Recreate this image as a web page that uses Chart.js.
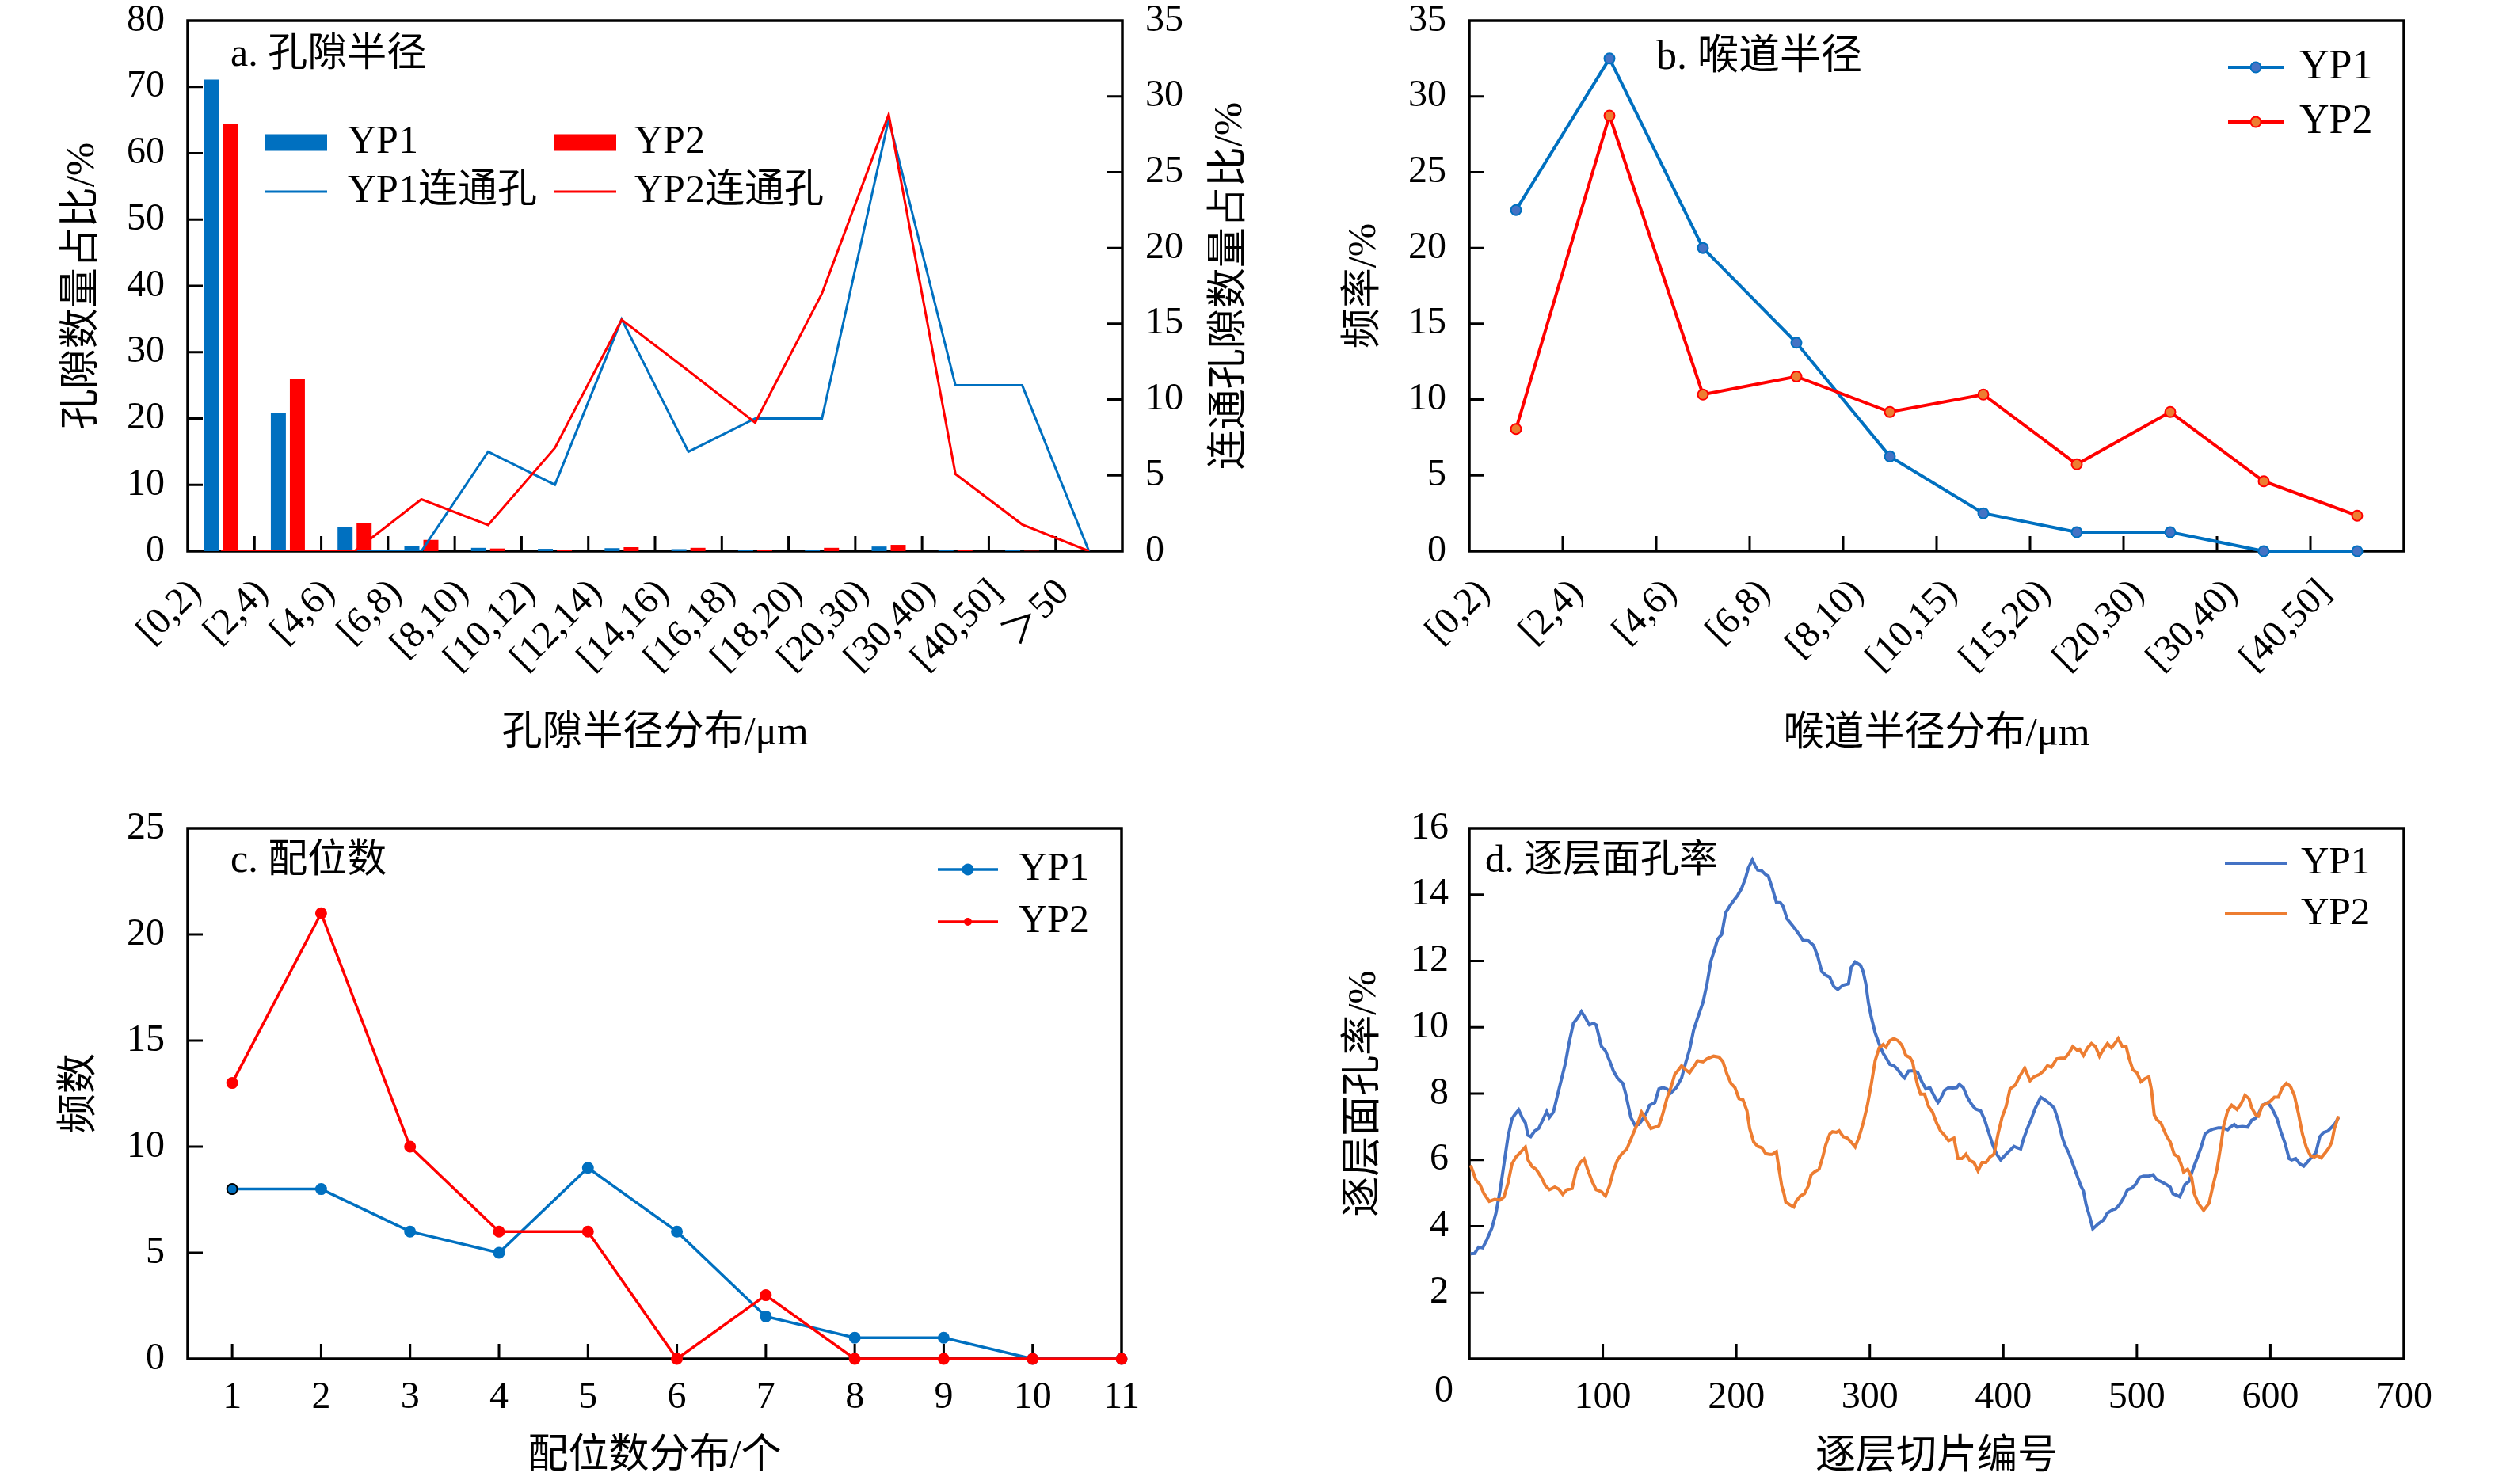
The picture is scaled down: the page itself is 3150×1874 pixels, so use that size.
<!DOCTYPE html>
<html lang="zh-CN">
<head>
<meta charset="utf-8">
<title>孔隙结构参数对比</title>
<script src="https://cdn.jsdelivr.net/npm/chart.js@4.4.1/dist/chart.umd.min.js"></script>
<style>
  html, body { margin: 0; padding: 0; background: #fff; }
  body { position: relative; width: 3150px; height: 1874px; overflow: hidden; }
  .panel { position: absolute; }
</style>
</head>
<body>
<div class="panel" style="left:0;top:0;width:1610px;height:960px"><canvas id="chartA"></canvas></div>
<div class="panel" style="left:1640px;top:0;width:1510px;height:960px"><canvas id="chartB"></canvas></div>
<div class="panel" style="left:0;top:960px;width:1610px;height:914px"><canvas id="chartC"></canvas></div>
<div class="panel" style="left:1640px;top:960px;width:1510px;height:914px"><canvas id="chartD"></canvas></div>
<script>
const BLUE = "#0070C0";
const RED = "#FF0000";
const BLUE_D = "#4472C4";
const ORANGE = "#ED7D31";
const FONT = '"Liberation Serif", "Times New Roman", "Noto Sans CJK SC", serif';

// a. 孔隙半径 (bars: left axis, connected pores: right axis)
const poreBins = ["[0,2)", "[2,4)", "[4,6)", "[6,8)", "[8,10)", "[10,12)", "[12,14)", "[14,16)", "[16,18)", "[18,20)", "[20,30)", "[30,40)", "[40,50]", "＞50"];
const yp1PoreShare = [71.1, 20.8, 3.6, 0.8, 0.5, 0.35, 0.45, 0.3, 0.2, 0.2, 0.7, 0.15, 0.15, 0];
const yp2PoreShare = [64.4, 26.0, 4.3, 1.7, 0.4, 0.2, 0.6, 0.5, 0.15, 0.5, 0.95, 0.15, 0.05, 0];
const yp1ConnShare = [0, 0, 0, 0, 6.56, 4.38, 15.3, 6.56, 8.75, 8.75, 28.5, 10.94, 10.94, 0];
const yp2ConnShare = [0, 0, 0, 3.42, 1.73, 6.81, 15.26, 11.9, 8.48, 17.0, 28.8, 5.09, 1.76, 0];

// b. 喉道半径
const throatBins = ["[0,2)", "[2,4)", "[4,6)", "[6,8)", "[8,10)", "[10,15)", "[15,20)", "[20,30)", "[30,40)", "[40,50]"];
const yp1ThroatFreq = [22.5, 32.5, 20.0, 13.75, 6.25, 2.5, 1.25, 1.25, 0, 0];
const yp2ThroatFreq = [8.06, 28.73, 10.33, 11.52, 9.18, 10.33, 5.73, 9.18, 4.61, 2.34];

// c. 配位数
const coordNumbers = [1, 2, 3, 4, 5, 6, 7, 8, 9, 10, 11];
const yp1CoordCount = [8, 8, 6, 5, 9, 6, 2, 1, 1, 0, 0];
const yp2CoordCount = [13, 21, 10, 6, 6, 0, 3, 0, 0, 0, 0];

// d. 逐层面孔率 (every few slices)
const yp1SliceNo = [1,4,7,10,13,17,20,23,26,29,32,34,37,40,42,44,46,49,52,55,58,60,63,66,69,72,75,78,81,84,87,90,93,95,99,102,105,108,111,115,117,119,121,124,127,130,133,135,139,142,145,148,151,155,159,162,165,168,171,175,178,181,
  183,186,189,192,195,198,201,204,207,209,212,214,216,219,222,224,227,230,233,235,238,241,244,247,250,254,258,261,264,267,270,273,276,280,284,286,289,293,295,297,299,301,304,307,310,312,315,318,321,324,326,329,333,336,339,342,345,348,351,
  353,356,359,362,365,367,370,373,376,379,383,386,389,392,395,398,402,405,408,410,413,415,418,421,424,428,431,435,438,441,444,446,449,452,455,458,460,462,465,467,471,475,478,482,484,487,490,493,496,499,502,505,509,512,515,518,522,525,527,530,532,
  534,536,539,542,545,548,551,554,557,561,564,568,570,573,575,579,583,586,589,591,594,598,601,605,608,611,614,616,619,622,625,627,630,634,637,640,643,648,651];
const yp1AreaPorosity = [3.17,3.18,3.37,3.35,3.58,3.95,4.40,5.06,5.88,6.70,7.24,7.36,7.51,7.24,7.12,6.74,6.70,6.87,6.95,7.20,7.46,7.28,7.44,7.94,8.43,8.92,9.58,10.12,10.28,10.47,10.28,10.07,10.12,10.07,9.42,9.29,9.00,8.68,8.47,8.31,8.02,7.65,7.28,7.05,7.07,7.24,7.44,7.65,7.73,8.14,8.18,8.14,8.02,8.18,8.47,8.92,9.33,9.91,10.28,10.75,11.30,12.00,
  12.25,12.66,12.80,13.45,13.65,13.82,13.98,14.19,14.51,14.80,15.05,14.88,14.74,14.72,14.60,14.56,14.19,13.77,13.76,13.65,13.27,13.12,12.97,12.80,12.62,12.61,12.46,12.13,11.68,11.57,11.51,11.23,11.14,11.27,11.31,11.80,11.97,11.87,11.68,11.31,10.73,10.32,9.83,9.50,9.21,9.09,8.88,8.84,8.72,8.55,8.47,8.68,8.69,8.63,8.35,8.14,8.18,7.94,7.73,
  7.85,8.10,8.18,8.17,8.18,8.28,8.18,7.89,7.69,7.54,7.48,7.21,6.83,6.46,6.17,6.00,6.17,6.29,6.41,6.37,6.33,6.62,6.95,7.24,7.57,7.89,7.81,7.69,7.57,7.20,6.70,6.46,6.21,5.88,5.55,5.22,5.06,4.65,4.24,3.92,4.07,4.19,4.40,4.50,4.52,4.65,4.85,5.10,5.14,5.26,5.47,5.51,5.51,5.55,5.40,5.35,5.26,5.18,4.98,4.93,4.89,
  5.06,5.26,5.35,5.72,6.04,6.37,6.78,6.87,6.93,6.97,6.97,6.91,6.99,7.07,6.99,7.01,6.99,7.20,7.26,7.38,7.65,7.73,7.57,7.24,6.83,6.50,6.04,6.00,6.04,5.88,5.81,5.90,6.04,6.21,6.70,6.83,6.87,7.07,7.28];
const yp2SliceNo = [1,5,8,11,15,19,23,26,29,32,35,38,42,44,47,50,54,57,60,64,67,70,73,77,80,83,86,89,92,95,99,102,105,108,111,114,118,121,124,127,129,132,136,139,142,145,148,151,154,156,159,162,165,168,171,175,178,
  183,187,190,193,196,199,202,205,208,210,213,216,219,222,225,227,230,232,234,236,237,240,243,245,248,251,254,256,259,262,265,267,270,272,275,277,280,283,286,289,292,295,298,301,304,307,310,312,315,318,321,324,327,330,332,334,336,338,341,344,347,350,
  353,356,359,363,366,369,372,375,378,381,384,387,390,393,396,399,402,405,409,412,416,420,423,427,430,433,436,440,443,446,449,452,455,457,460,463,466,469,472,475,478,481,484,486,489,492,494,497,500,503,506,509,511,513,515,518,522,525,528,531,
  533,535,538,541,543,546,550,554,557,560,563,565,568,571,575,578,581,584,586,589,591,594,597,600,603,606,609,612,615,618,621,624,627,630,633,635,638,641,644,646,648,651];
const yp2AreaPorosity = [5.84,5.39,5.26,4.98,4.75,4.81,4.79,4.88,5.30,5.88,6.09,6.21,6.39,6.00,5.80,5.72,5.47,5.22,5.10,5.18,5.12,4.96,5.10,5.14,5.67,5.92,6.03,5.67,5.35,5.10,5.04,4.91,5.22,5.67,6.00,6.17,6.33,6.62,6.91,7.20,7.44,7.24,6.95,6.99,7.03,7.40,7.85,8.18,8.59,8.68,8.84,8.72,8.63,8.80,8.99,8.96,9.05,
  9.13,9.10,8.96,8.59,8.31,8.18,7.85,7.81,7.48,6.95,6.54,6.41,6.37,6.19,6.17,6.17,6.25,5.72,5.22,4.93,4.73,4.65,4.58,4.77,4.91,4.98,5.22,5.55,5.65,5.72,6.13,6.46,6.78,6.85,6.83,6.88,6.70,6.66,6.54,6.39,6.70,7.11,7.61,8.26,9.00,9.38,9.48,9.40,9.60,9.66,9.60,9.46,9.15,9.09,8.96,8.55,8.22,7.98,7.98,7.61,7.44,7.11,
  6.87,6.74,6.58,6.66,6.04,6.04,6.17,5.98,5.92,5.67,5.92,5.92,6.09,6.17,6.78,7.28,7.61,8.14,8.26,8.51,8.77,8.39,8.51,8.58,8.68,8.84,8.80,9.05,9.07,9.07,9.21,9.42,9.32,9.34,9.15,9.38,9.51,9.42,9.13,9.34,9.51,9.38,9.54,9.66,9.43,9.42,9.09,8.72,8.63,8.36,8.45,8.51,8.10,7.36,7.21,7.11,6.74,6.54,6.17,6.09,
  5.88,5.63,5.72,5.47,4.98,4.69,4.48,4.69,5.22,5.72,6.46,7.03,7.48,7.65,7.52,7.69,7.95,7.85,7.57,7.36,7.32,7.65,7.69,7.77,7.89,7.89,8.18,8.31,8.22,7.94,7.40,6.78,6.37,6.13,6.09,6.13,6.06,6.21,6.37,6.54,6.95,7.32];

Chart.defaults.font.family = FONT;
Chart.defaults.color = "#000";
Chart.defaults.animation = false;

const TICK_SIZE = 48;
const TICK_FONT = { size: TICK_SIZE, lineHeight: 1 };
const TITLE_FONT = { size: 51, lineHeight: 1.2 };

// panel label, legend and extra texts, offsets from the chart area corner
const deco = {
  chartA: {
    title: "a. 孔隙半径", titleX: 54, titleY: 44, size: 50,
    legend: [
      { ds: 0, kind: "rect", x0: 98, x1: 176, y: 154, tx: 202 },
      { ds: 1, kind: "rect", x0: 463, x1: 541, y: 154, tx: 564 },
      { ds: 2, kind: "line", x0: 98, x1: 176, y: 216, tx: 202, width: 3 },
      { ds: 3, kind: "line", x0: 463, x1: 541, y: 216, tx: 564, width: 3 }
    ],
    sideTitle: { text: "连通孔隙数量占比/%", dx: 137 }
  },
  chartB: {
    title: "b. 喉道半径", titleX: 236, titleY: 47, size: 52,
    legend: [
      { ds: 0, kind: "line", x0: 958, x1: 1028, y: 59, tx: 1048, width: 4, marker: { r: 6.5, fill: BLUE_D, stroke: BLUE } },
      { ds: 1, kind: "line", x0: 958, x1: 1028, y: 128, tx: 1048, width: 4, marker: { r: 6.5, fill: ORANGE, stroke: RED } }
    ]
  },
  chartC: {
    title: "c. 配位数", titleX: 54, titleY: 42, size: 50,
    legend: [
      { ds: 0, kind: "line", x0: 947, x1: 1023, y: 52, tx: 1049, width: 3.5, marker: { r: 6.5, fill: BLUE, stroke: BLUE } },
      { ds: 1, kind: "line", x0: 947, x1: 1023, y: 118, tx: 1049, width: 3.5, marker: { r: 4, fill: RED, stroke: RED } }
    ]
  },
  chartD: {
    title: "d. 逐层面孔率", titleX: 20, titleY: 42, size: 49,
    legend: [
      { ds: 0, kind: "line", x0: 954, x1: 1032, y: 44, tx: 1050, width: 4 },
      { ds: 1, kind: "line", x0: 954, x1: 1032, y: 108, tx: 1050, width: 4 }
    ],
    // the shared origin label sits down-left of the corner
    cornerLabel: { text: "0", dx: -32, dy: 17 + TICK_SIZE / 2 }
  }
};

// which axes get the short inward tick marks
const innerMarks = {
  chartA: [{ scale: "x", side: "bottom", between: true }, { scale: "y", side: "left" }, { scale: "y1", side: "right" }],
  chartB: [{ scale: "x", side: "bottom", between: true }, { scale: "y", side: "left" }],
  chartC: [{ scale: "x", side: "bottom" }, { scale: "y", side: "left" }],
  chartD: [{ scale: "x", side: "bottom" }, { scale: "y", side: "left" }]
};

const framePlugin = {
  id: "frame",
  beforeDatasetsDraw(chart) {
    const { ctx, chartArea: a } = chart;
    ctx.save();
    ctx.strokeStyle = "#000";
    ctx.lineWidth = 3;
    ctx.beginPath();
    (innerMarks[chart.canvas.id] || []).forEach(m => {
      const s = chart.scales[m.scale];
      let px = [];
      if (m.between) {
        for (let i = 1; i < s.ticks.length; i++) px.push((s.getPixelForTick(i - 1) + s.getPixelForTick(i)) / 2);
      } else {
        px = s.ticks.filter(t => t.value > s.min && t.value < s.max).map(t => s.getPixelForValue(t.value));
      }
      px.forEach(p => {
        if (m.side === "bottom") { ctx.moveTo(p, a.bottom); ctx.lineTo(p, a.bottom - 19); }
        if (m.side === "left") { ctx.moveTo(a.left, p); ctx.lineTo(a.left + 19, p); }
        if (m.side === "right") { ctx.moveTo(a.right, p); ctx.lineTo(a.right - 19, p); }
      });
    });
    ctx.stroke();
    ctx.lineWidth = 3.5;
    ctx.strokeRect(a.left, a.top, a.right - a.left, a.bottom - a.top);
    ctx.restore();
  },
  afterDatasetsDraw(chart) {
    const d = deco[chart.canvas.id];
    if (!d) return;
    const { ctx, chartArea: a } = chart;
    ctx.save();
    ctx.textBaseline = "middle";
    ctx.textAlign = "left";
    ctx.fillStyle = "#000";
    ctx.font = d.size + "px " + FONT;
    ctx.fillText(d.title, a.left + d.titleX, a.top + d.titleY);

    d.legend.forEach(item => {
      const ds = chart.data.datasets[item.ds];
      const y = a.top + item.y;
      if (item.kind === "rect") {
        ctx.fillStyle = ds.backgroundColor;
        ctx.fillRect(a.left + item.x0, y - 10.5, item.x1 - item.x0, 21);
      } else {
        ctx.strokeStyle = ds.borderColor;
        ctx.lineWidth = item.width;
        ctx.beginPath();
        ctx.moveTo(a.left + item.x0, y);
        ctx.lineTo(a.left + item.x1, y);
        ctx.stroke();
        if (item.marker) {
          ctx.beginPath();
          ctx.arc(a.left + (item.x0 + item.x1) / 2, y, item.marker.r, 0, Math.PI * 2);
          ctx.fillStyle = item.marker.fill;
          ctx.fill();
          ctx.lineWidth = 2;
          ctx.strokeStyle = item.marker.stroke;
          ctx.stroke();
        }
      }
      ctx.fillStyle = "#000";
      ctx.font = d.size + "px " + FONT;
      ctx.fillText(ds.label, a.left + item.tx, y);
    });

    if (d.cornerLabel) {
      ctx.textAlign = "center";
      ctx.font = TICK_SIZE + "px " + FONT;
      ctx.fillText(d.cornerLabel.text, a.left + d.cornerLabel.dx, a.bottom + d.cornerLabel.dy);
    }

    if (d.sideTitle) {
      ctx.translate(a.right + d.sideTitle.dx, (a.top + a.bottom) / 2);
      ctx.rotate(-Math.PI / 2);
      ctx.textAlign = "center";
      ctx.font = TITLE_FONT.size + "px " + FONT;
      ctx.fillText(d.sideTitle.text, 0, 0);
    }
    ctx.restore();
  }
};
Chart.register(framePlugin);

const noDeco = { legend: { display: false }, tooltip: { enabled: false } };

function plainAxis(extra) {
  return Object.assign({ grid: { display: false }, border: { display: false } }, extra);
}

// fixed axis sizes; drop the label overhang so the plot box lands where the figure has it
function fixX(h) {
  return s => { s.height = h; s.paddingLeft = 0; s.paddingRight = 0; };
}
function fixY(w) {
  return s => { s.width = w; s.paddingTop = 0; s.paddingBottom = 0; };
}

// a
new Chart(document.getElementById("chartA"), {
  type: "bar",
  data: {
    labels: poreBins,
    datasets: [
      { label: "YP1", data: yp1PoreShare, backgroundColor: BLUE, categoryPercentage: 0.57, barPercentage: 0.79, order: 2 },
      { label: "YP2", data: yp2PoreShare, backgroundColor: RED, categoryPercentage: 0.57, barPercentage: 0.79, order: 3 },
      { type: "line", label: "YP1连通孔", data: yp1ConnShare, yAxisID: "y1", borderColor: BLUE, borderWidth: 3, pointRadius: 0, order: 1 },
      { type: "line", label: "YP2连通孔", data: yp2ConnShare, yAxisID: "y1", borderColor: RED, borderWidth: 3, pointRadius: 0, order: 0 }
    ]
  },
  options: {
    responsive: true, maintainAspectRatio: false, devicePixelRatio: 1,
    layout: { padding: { left: 0, right: 0, top: 26, bottom: 0 } },
    plugins: noDeco,
    scales: {
      x: plainAxis({
        ticks: { autoSkip: false, minRotation: 45, maxRotation: 45, padding: 20, labelOffset: -32, font: TICK_FONT },
        title: { display: true, text: "孔隙半径分布/μm", font: TITLE_FONT, padding: { top: 0, bottom: 3 } },
        afterFit: fixX(264)
      }),
      y: plainAxis({
        position: "left", min: 0, max: 80,
        ticks: { stepSize: 10, padding: 21, font: TICK_FONT },
        title: { display: true, text: "孔隙数量占比/%", font: TITLE_FONT, padding: { top: 74, bottom: 0 } },
        afterFit: fixY(237)
      }),
      y1: plainAxis({
        position: "right", min: 0, max: 35,
        ticks: { stepSize: 5, padding: 21, font: TICK_FONT },
        afterFit: fixY(193)
      })
    }
  }
});

// b
new Chart(document.getElementById("chartB"), {
  type: "line",
  data: {
    labels: throatBins,
    datasets: [
      { label: "YP1", data: yp1ThroatFreq, borderColor: BLUE, borderWidth: 4, pointRadius: 6.5, pointBackgroundColor: BLUE_D, pointBorderColor: BLUE, pointBorderWidth: 2, clip: false, order: 1 },
      { label: "YP2", data: yp2ThroatFreq, borderColor: RED, borderWidth: 4, pointRadius: 6.5, pointBackgroundColor: ORANGE, pointBorderColor: RED, pointBorderWidth: 2, clip: false, order: 0 }
    ]
  },
  options: {
    responsive: true, maintainAspectRatio: false, devicePixelRatio: 1,
    layout: { padding: { left: 0, right: 115, top: 26, bottom: 0 } },
    plugins: noDeco,
    scales: {
      x: plainAxis({
        offset: true,
        ticks: { autoSkip: false, minRotation: 45, maxRotation: 45, padding: 20, labelOffset: -40, font: TICK_FONT },
        title: { display: true, text: "喉道半径分布/μm", font: TITLE_FONT, padding: { top: 0, bottom: 2 } },
        afterFit: fixX(264)
      }),
      y: plainAxis({
        min: 0, max: 35,
        ticks: { stepSize: 5, padding: 21, font: TICK_FONT },
        title: { display: true, text: "频率/%", font: TITLE_FONT, padding: { top: 52, bottom: 0 } },
        afterFit: fixY(215)
      })
    }
  }
});

// c
new Chart(document.getElementById("chartC"), {
  type: "line",
  data: {
    datasets: [
      { label: "YP1", data: coordNumbers.map((n, i) => ({ x: n, y: yp1CoordCount[i] })), borderColor: BLUE, borderWidth: 3.5, pointRadius: 6.5,
        pointBackgroundColor: BLUE, pointBorderColor: c => (c.dataIndex === 0 ? "#000" : BLUE), pointBorderWidth: 2, clip: false, order: 1 },
      { label: "YP2", data: coordNumbers.map((n, i) => ({ x: n, y: yp2CoordCount[i] })), borderColor: RED, borderWidth: 3.5, pointRadius: 6.5,
        pointBackgroundColor: RED, pointBorderColor: RED, pointBorderWidth: 2, clip: false, order: 0 }
    ]
  },
  options: {
    responsive: true, maintainAspectRatio: false, devicePixelRatio: 1,
    layout: { padding: { left: 0, right: 194, top: 86, bottom: 0 } },
    plugins: noDeco,
    scales: {
      x: plainAxis({
        type: "linear", min: 0.5, max: 11,
        afterBuildTicks: s => { s.ticks = coordNumbers.map(v => ({ value: v })); },
        ticks: { padding: 17, font: TICK_FONT },
        title: { display: true, text: "配位数分布/个", font: TITLE_FONT, padding: { top: 0, bottom: 4 } },
        afterFit: fixX(158)
      }),
      y: plainAxis({
        min: 0, max: 25,
        ticks: { stepSize: 5, padding: 21, font: TICK_FONT },
        title: { display: true, text: "频数", font: TITLE_FONT, padding: { top: 71, bottom: 0 } },
        afterFit: fixY(237)
      })
    }
  }
});

// d
new Chart(document.getElementById("chartD"), {
  type: "line",
  data: {
    datasets: [
      { label: "YP1", data: yp1SliceNo.map((n, i) => ({ x: n, y: yp1AreaPorosity[i] })), borderColor: BLUE_D, borderWidth: 4, pointRadius: 0, order: 1 },
      { label: "YP2", data: yp2SliceNo.map((n, i) => ({ x: n, y: yp2AreaPorosity[i] })), borderColor: ORANGE, borderWidth: 4, pointRadius: 0, order: 0 }
    ]
  },
  options: {
    responsive: true, maintainAspectRatio: false, devicePixelRatio: 1,
    layout: { padding: { left: 0, right: 115, top: 86, bottom: 0 } },
    plugins: noDeco,
    scales: {
      x: plainAxis({
        type: "linear", min: 0, max: 700,
        ticks: { stepSize: 100, padding: 17, font: TICK_FONT, callback: v => (v === 0 ? "" : v) },
        title: { display: true, text: "逐层切片编号", font: TITLE_FONT, padding: { top: 0, bottom: 3 } },
        afterFit: fixX(158)
      }),
      y: plainAxis({
        min: 0, max: 16,
        ticks: { stepSize: 2, padding: 18, font: TICK_FONT, callback: v => (v === 0 ? "" : v) },
        title: { display: true, text: "逐层面孔率/%", font: TITLE_FONT, padding: { top: 52, bottom: 0 } },
        afterFit: fixY(215)
      })
    }
  }
});
</script>
</body>
</html>
